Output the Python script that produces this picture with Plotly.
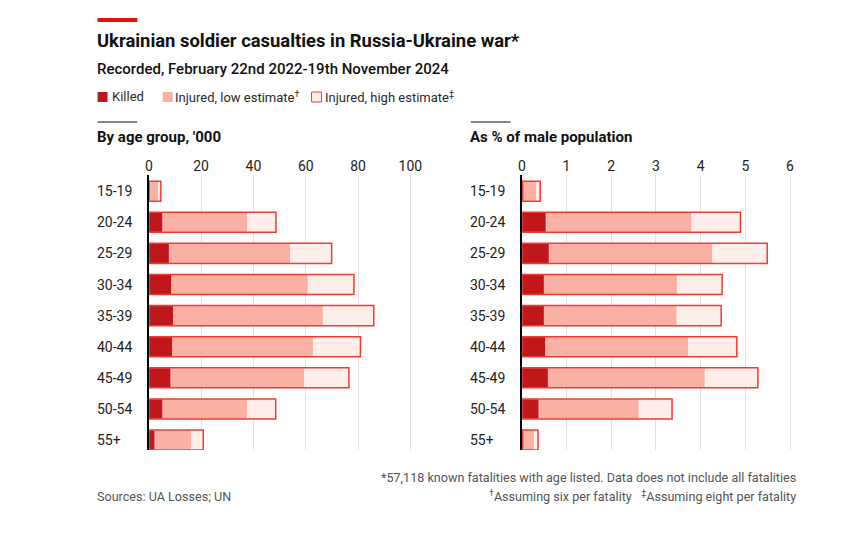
import plotly.graph_objects as go

W, H = 857, 537
def px(x): return x / W
def py(y): return 1 - y / H

ages = ["15-19", "20-24", "25-29", "30-34", "35-39", "40-44", "45-49", "50-54", "55+"]

# Left panel: thousands
killed_k = [0.5, 5.3, 7.8, 8.7, 9.4, 9.05, 8.4, 5.3, 2.3]
low_k = [3.7, 37.8, 54.2, 60.9, 66.7, 62.9, 59.5, 37.7, 16.3]
high_k = [4.6, 48.6, 69.9, 78.4, 86.0, 80.9, 76.5, 48.5, 20.8]

# Right panel: % of male population
killed_p = [0.04, 0.54, 0.61, 0.50, 0.50, 0.53, 0.59, 0.38, 0.04]
low_p = [0.33, 3.80, 4.27, 3.48, 3.47, 3.73, 4.10, 2.62, 0.28]
high_p = [0.41, 4.89, 5.49, 4.48, 4.46, 4.81, 5.28, 3.36, 0.36]

left_ticks = [0, 20, 40, 60, 80, 100]
right_ticks = [0, 1, 2, 3, 4, 5, 6]

C_KILLED = "#c0181a"
C_LOW = "#fab1a3"
C_HIGH = "#fdeeea"
C_OUT = "#ee3b36"
FONT = "Roboto"

fig = go.Figure()
BW = 0.645
for vals_k, vals_l, vals_h, xa, ya in [(killed_k, low_k, high_k, "x", "y"),
                                       (killed_p, low_p, high_p, "x2", "y2")]:
    fig.add_trace(go.Bar(y=ages, x=vals_h, orientation="h", width=BW, xaxis=xa, yaxis=ya,
                         marker=dict(color=C_HIGH, line=dict(width=0)), showlegend=False))
    fig.add_trace(go.Bar(y=ages, x=vals_l, orientation="h", width=BW, xaxis=xa, yaxis=ya,
                         marker=dict(color=C_LOW, line=dict(width=1, color="rgba(255,255,255,0.7)")), showlegend=False))
    fig.add_trace(go.Bar(y=ages, x=vals_k, orientation="h", width=BW, xaxis=xa, yaxis=ya,
                         marker=dict(color=C_KILLED, line=dict(width=1, color="rgba(255,255,255,0.5)")), showlegend=False))
    fig.add_trace(go.Bar(y=ages, x=vals_h, orientation="h", width=BW, xaxis=xa, yaxis=ya,
                         marker=dict(color="rgba(0,0,0,0)", line=dict(width=1.5, color=C_OUT)), showlegend=False))

ydom = [py(450), py(175)]
axis_common = dict(side="top", showgrid=True, gridcolor="#e2e2e2", gridwidth=1, zeroline=False,
                   showline=False, ticks="", tickfont=dict(family=FONT, size=14, color="#222"),
                   fixedrange=True)
yaxis_common = dict(range=[8.32, -0.52], showticklabels=False, showgrid=False, zeroline=False,
                    showline=True, linecolor="#000", linewidth=1.5, ticks="", domain=ydom,
                    fixedrange=True)

fig.update_layout(
    width=W, height=H, margin=dict(l=0, r=0, t=0, b=0),
    paper_bgcolor="white", plot_bgcolor="white", barmode="overlay", bargap=0,
    hovermode=False,
    xaxis=dict(domain=[px(145.5), px(145.5 + 105 * 2.628)], range=[0, 105], tickvals=left_ticks, anchor="y", **axis_common),
    yaxis=dict(anchor="x", **yaxis_common),
    xaxis2=dict(domain=[px(520.3), px(520.3 + 6.2 * 44.9)], range=[0, 6.2], tickvals=right_ticks, anchor="y2", **axis_common),
    yaxis2=dict(anchor="x2", **yaxis_common),
    showlegend=False,
)

ann = []
def text(x, y, s, size, color="#111", bold=False, anchor="left", weight=None, family=FONT):
    f = dict(family=family, size=size, color=color)
    if weight is not None:
        f["weight"] = weight
    elif bold:
        f["weight"] = "bold"
    ann.append(dict(x=px(x), y=py(y), xref="paper", yref="paper", text=s, showarrow=False,
                    xanchor=anchor, yanchor="middle", font=f))

text(91, 40, "Ukrainian soldier casualties in Russia-Ukraine war*", 18.4, bold=True)
text(91, 69, "Recorded, February 22nd 2022-19th November 2024", 15, weight=500)
text(106, 97, "Killed", 13, color="#2a2a2a")
text(170, 97, "Injured, low estimate<sup>†</sup>", 13, color="#2a2a2a")
text(320, 97, "Injured, high estimate<sup>‡</sup>", 13, color="#2a2a2a")
text(91, 137, "By age group, '000", 15, bold=True)
text(466, 137, "As % of male population", 15, bold=True)
text(798, 477, "*57,118 known fatalities with age listed. Data does not include all fatalities", 12.6, color="#555", anchor="right")
text(798, 496, "<sup>†</sup>Assuming six per fatality   <sup>‡</sup>Assuming eight per fatality", 12.6, color="#555", anchor="right")
text(91, 496, "Sources: UA Losses; UN", 12.6, color="#555")

for a in ages:
    ann.append(dict(x=px(91), y=a, xref="paper", yref="y", text=a, showarrow=False, xanchor="left",
                    yanchor="middle", font=dict(family=FONT, size=14, color="#222")))
    ann.append(dict(x=px(466.5), y=a, xref="paper", yref="y2", text=a, showarrow=False, xanchor="left",
                    yanchor="middle", font=dict(family=FONT, size=14, color="#222")))
fig.update_layout(annotations=ann)

shapes = [
    dict(type="rect", xref="paper", yref="paper", x0=px(94), x1=px(134), y0=py(22), y1=py(18),
         fillcolor="#e3120b", line=dict(width=0)),
    dict(type="line", xref="paper", yref="paper", x0=px(94), x1=px(134), y0=py(122), y1=py(122),
         line=dict(color="#111", width=1)),
    dict(type="line", xref="paper", yref="paper", x0=px(469), x1=px(509), y0=py(122), y1=py(122),
         line=dict(color="#111", width=1)),
    dict(type="rect", xref="paper", yref="paper", x0=px(94), x1=px(104), y0=py(102), y1=py(92),
         fillcolor=C_KILLED, line=dict(width=0)),
    dict(type="rect", xref="paper", yref="paper", x0=px(159.5), x1=px(169.5), y0=py(102), y1=py(92),
         fillcolor=C_LOW, line=dict(width=0)),
    dict(type="rect", xref="paper", yref="paper", x0=px(309), x1=px(319), y0=py(102), y1=py(92),
         fillcolor=C_HIGH, line=dict(width=1, color=C_OUT)),
]
fig.update_layout(shapes=shapes)

fig.write_html("out.html", config={"displayModeBar": False, "staticPlot": True},
               post_script="document.body.style.margin='0';document.body.style.overflow='hidden';")
